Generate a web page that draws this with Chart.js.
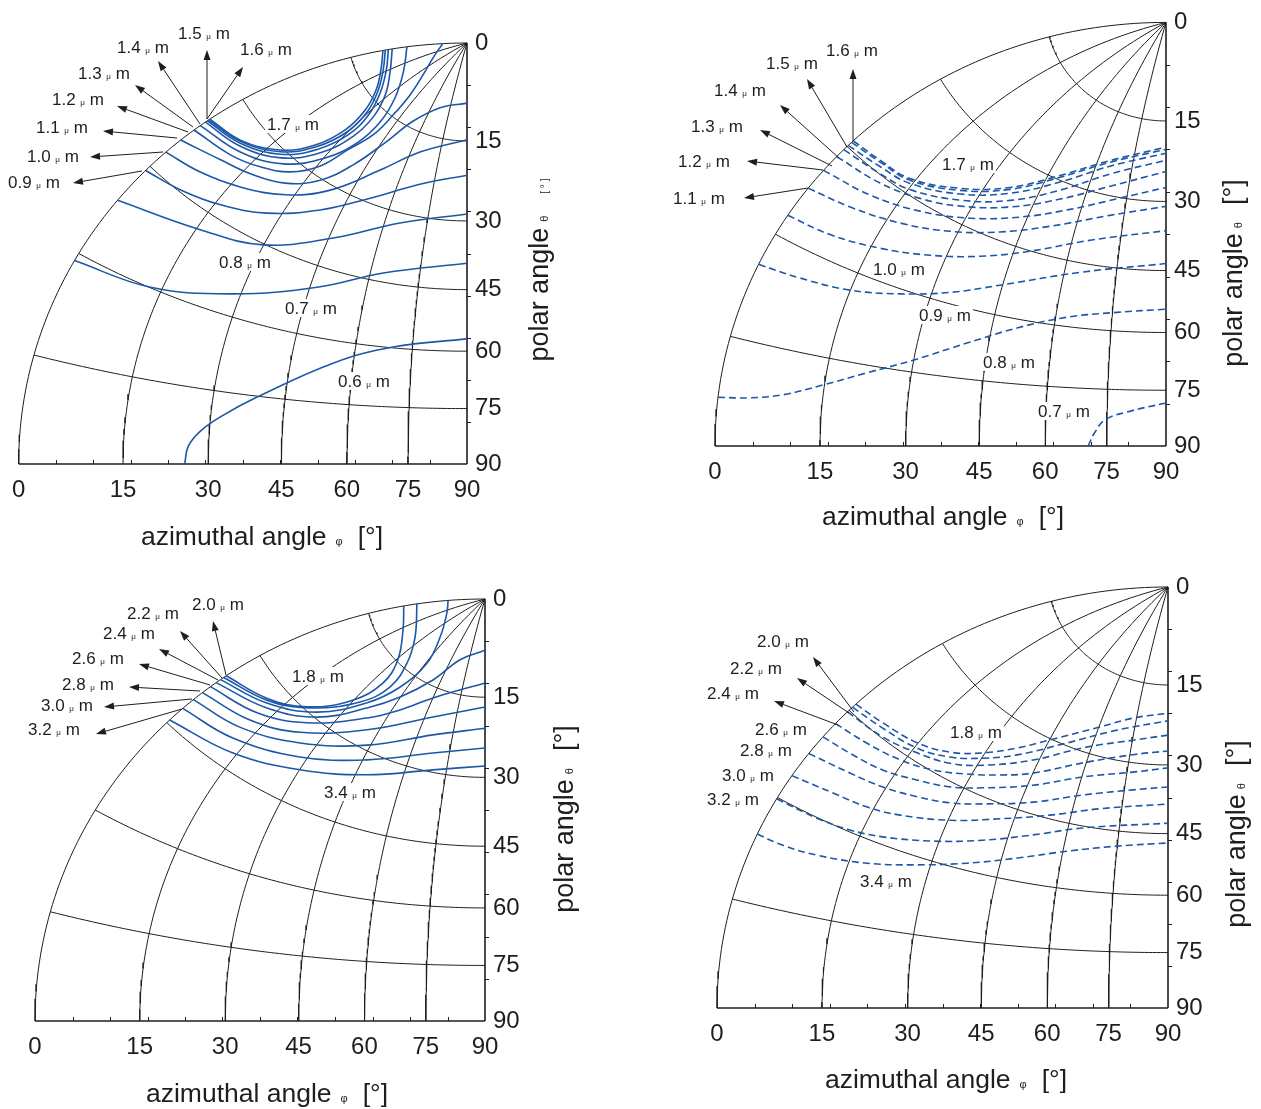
<!DOCTYPE html>
<html>
<head>
<meta charset="utf-8">
<script src="https://cdn.jsdelivr.net/npm/chart.js@4.4.1/dist/chart.umd.min.js"></script>
<style>
  html, body { margin: 0; padding: 0; background: #fff; }
  #wrap { position: relative; width: 1261px; height: 1109px; overflow: hidden; background: #fff; }
  #wrap canvas { position: absolute; left: 0; top: 0; }
</style>
</head>
<body>
<div id="wrap">
  <canvas id="chartA" width="1261" height="1109"></canvas>
  <canvas id="chartB" width="1261" height="1109"></canvas>
  <canvas id="chartC" width="1261" height="1109"></canvas>
  <canvas id="chartD" width="1261" height="1109"></canvas>
</div>
<script>
// tick labels, used on both angle axes (degrees)
const angleTicks = [0, 15, 30, 45, 60, 75, 90];

// each curve is a list of [azimuthal angle phi, polar angle theta] in degrees

// top left (solid)
const wavesA = ['0.6', '0.7', '0.8', '0.9', '1.0', '1.1', '1.2', '1.3', '1.4', '1.5', '1.6', '1.7'];
const curvesA = [
  [[25.6, 90], [26.2, 86.5], [28.3, 83.4], [31.9, 80.2], [38.9, 75.2], [55.0, 65.3], [69.8, 59.8], [90, 56.9]],
  [[0, 61.1], [13.0, 59.9], [28.5, 55.7], [46.8, 49.3], [63.8, 43.0], [90, 39.0]],
  [[0, 51.2], [15.8, 48.0], [29.9, 45.2], [46.2, 38.8], [65.3, 32.0], [90, 28.6]],
  [[0, 45.8], [7.5, 44.7], [16.2, 42.9], [26.6, 39.9], [38.9, 34.9], [52.1, 29.1], [69.0, 23.8], [90, 21.1]],
  [[0, 42.2], [7.9, 40.9], [17.1, 38.8], [27.8, 35.6], [38.4, 30.9], [50.8, 23.7], [64.5, 18.2], [90, 14.8]],
  [[0, 39.7], [9.1, 37.6], [16.8, 36.2], [25.7, 34.0], [33.8, 30.3], [40.3, 25.1], [46.8, 18.8], [53.2, 13.9], [66.9, 10.2], [90, 8.8]],
  [[0, 37.5], [9.8, 36.1], [17.4, 34.4], [24.8, 32.0], [30.9, 28.3], [34.9, 23.6], [39.5, 19.1], [40.9, 14.7], [40.3, 10.8], [34.9, 7.4], [23.0, 4.9], [0, 3.1]],
  [[0, 36.5], [10.9, 34.8], [21.6, 31.7], [30.4, 26.8], [36.3, 21.5], [38.0, 16.8], [34.2, 12.6], [21.6, 9.3], [0, 7.7]],
  [[0, 35.7], [9.8, 34.2], [19.9, 31.2], [27.9, 26.6], [32.9, 21.4], [33.5, 16.9], [28.5, 13.3], [16.8, 10.9], [0, 9.6]],
  [[0, 35.4], [9.2, 33.9], [18.9, 30.9], [26.4, 26.4], [31.1, 21.4], [30.9, 17.0], [25.6, 13.7], [14.9, 11.3], [0, 10.1]],
  [[0, 35.2], [8.8, 33.7], [18.4, 30.6], [25.4, 26.3], [29.8, 21.3], [29.4, 17.0], [23.9, 13.8], [13.4, 11.6], [0, 10.5]],
  [[0, 35.0], [8.6, 33.6], [18.0, 30.4], [24.7, 26.2], [28.6, 21.3], [28.0, 17.0], [22.7, 13.9], [12.9, 11.9], [0, 10.8]]
];

// top right (dashed)
const wavesB = ['0.7', '0.8', '0.9', '1.0', '1.1', '1.2', '1.3', '1.4', '1.5', '1.6', '1.7'];
const curvesB = [
  [[70.4, 90], [72.1, 86.3], [74.5, 83.1], [80.0, 80.9], [90, 78.4]],
  [[0, 83.4], [4.2, 83.0], [8.8, 82.0], [14.8, 79.6], [21.8, 76.4], [29.9, 72.6], [40.2, 67.2], [50.9, 62.0], [62.9, 57.8], [76.3, 55.4], [90, 54.2]],
  [[0, 64.6], [6.5, 64.1], [14.9, 63.1], [23.9, 60.9], [33.7, 57.8], [44.4, 53.6], [64.4, 47.1], [90, 43.4]],
  [[0, 57.0], [7.5, 56.4], [16.7, 54.8], [26.6, 52.4], [37.3, 49.2], [49.1, 45.1], [65.4, 39.8], [90, 36.1]],
  [[0, 52.5], [7.8, 51.4], [17.7, 49.6], [28.2, 47.0], [39.6, 43.4], [52.3, 39.0], [70.1, 33.9], [90, 31.0]],
  [[0, 49.4], [9.5, 48.3], [19.9, 46.3], [31.0, 43.3], [43.0, 39.3], [56.5, 34.6], [72.5, 30.1], [90, 27.2]],
  [[0, 46.9], [9.5, 46.0], [18.3, 44.5], [27.3, 42.2], [39.1, 38.3], [52.2, 33.3], [67.8, 28.2], [90, 24.1]],
  [[0, 45.6], [8.2, 44.9], [15.3, 44.2], [26.5, 41.3], [38.2, 37.2], [51.0, 31.7], [66.6, 25.9], [90, 22.0]],
  [[0, 44.8], [7.3, 44.1], [14.5, 43.4], [25.6, 40.4], [37.2, 36.0], [49.8, 30.3], [65.6, 24.5], [90, 20.7]],
  [[0, 44.2], [6.7, 43.6], [14.1, 43.0], [25.0, 39.9], [36.6, 35.4], [49.1, 29.5], [65.1, 23.8], [90, 20.0]],
  [[0, 43.9], [6.4, 43.4], [13.8, 42.8], [24.7, 39.6], [36.3, 35.1], [48.8, 29.2], [64.9, 23.5], [90, 19.6]]
];

// bottom left (solid)
const wavesC = ['1.8', '2.0', '2.2', '2.4', '2.6', '2.8', '3.0', '3.2', '3.4'];
const curvesC = [
  [[0, 35.1], [10.5, 32.8], [20.1, 29.5], [29.7, 24.0], [34.1, 18.9], [30.8, 14.8], [16.6, 11.6], [0, 10.4]],
  [[0, 35.5], [10.9, 33.0], [21.0, 29.3], [32.3, 23.5], [37.9, 18.7], [35.8, 14.1], [25.4, 10.7], [0, 8.7]],
  [[0, 36.0], [11.5, 33.3], [23.5, 29.1], [34.7, 22.9], [41.8, 17.8], [45.7, 12.3], [39.0, 8.0], [19.0, 5.3], [0, 4.7]],
  [[0, 36.7], [12.5, 33.8], [24.6, 29.7], [36.0, 23.6], [44.8, 19.1], [55.3, 14.1], [67.2, 9.5], [90, 7.4]],
  [[0, 37.6], [11.7, 35.3], [23.5, 31.4], [38.4, 25.0], [48.1, 21.0], [60.0, 16.8], [90, 12.6]],
  [[0, 38.9], [11.8, 36.8], [23.8, 33.3], [41.0, 26.7], [63.7, 19.9], [90, 16.7]],
  [[0, 40.4], [11.3, 38.6], [25.8, 34.7], [43.8, 29.1], [66.3, 23.0], [90, 20.5]],
  [[0, 42.2], [11.9, 40.5], [28.1, 36.7], [46.3, 31.5], [68.4, 26.3], [90, 24.2]],
  [[0, 44.5], [14.2, 42.3], [30.1, 38.6], [48.4, 34.1], [69.9, 29.5], [90, 27.7]]
];

// bottom right (dashed)
const wavesD = ['1.8', '2.0', '2.2', '2.4', '2.6', '2.8', '3.0', '3.2', '3.4'];
const curvesD = [
  [[0, 43.8], [6.4, 43.2], [14.8, 42.4], [22.3, 40.7], [29.5, 37.9], [37.1, 34.2], [45.2, 30.2], [60.4, 24.6], [73.4, 21.5], [90, 20.0]],
  [[0, 44.4], [7.1, 43.8], [15.5, 43.1], [23.0, 41.4], [30.3, 38.7], [38.2, 35.3], [51.0, 29.5], [67.7, 24.3], [90, 21.4]],
  [[0, 45.3], [8.4, 44.8], [16.2, 43.7], [23.9, 42.3], [31.3, 39.8], [43.3, 34.9], [57.1, 29.3], [75.2, 25.6], [90, 24.1]],
  [[0, 47.5], [6.8, 46.9], [14.2, 46.1], [21.4, 44.7], [28.9, 42.5], [36.7, 40.0], [45.0, 37.2], [58.9, 32.1], [76.2, 28.4], [90, 27.2]],
  [[0, 49.9], [5.5, 49.5], [12.5, 48.9], [19.6, 47.5], [26.9, 45.9], [34.2, 43.5], [46.5, 39.4], [60.4, 34.8], [77.1, 31.9], [90, 30.6]],
  [[0, 52.8], [7.7, 51.9], [14.4, 51.2], [21.5, 50.0], [28.7, 48.5], [36.0, 46.3], [48.3, 42.6], [62.0, 38.4], [77.9, 35.6], [90, 34.6]],
  [[0, 56.5], [7.2, 55.7], [13.8, 55.2], [20.2, 54.1], [30.4, 51.5], [41.5, 47.9], [54.1, 44.2], [68.2, 40.6], [90, 38.3]],
  [[0, 60.2], [7.0, 60.1], [12.9, 59.7], [19.0, 58.7], [28.7, 56.3], [39.3, 53.1], [51.1, 49.2], [64.3, 45.4], [90, 42.6]],
  [[0, 65.6], [4.1, 65.7], [9.6, 65.3], [18.1, 63.9], [27.3, 61.5], [37.5, 58.5], [48.7, 54.9], [61.1, 51.2], [74.9, 48.5], [90, 47.2]]
];

// layout of the four panels and their annotations (page pixels)
const FONT = '"Liberation Sans", Arial, Helvetica, sans-serif';
const BLUE = '#1c57a8';
const INK = '#1e1e1e';
const AXIS_W = 40, AXIS_H = 40;

const frameA = { left: 18, top: 43, right: 467, bottom: 464 };
const frameB = { left: 715, top: 22, right: 1166, bottom: 446 };
const frameC = { left: 35, top: 599, right: 485, bottom: 1021 };
const frameD = { left: 717, top: 587, right: 1168, bottom: 1008 };

// [wavelength, text left, text middle]
const labelsA = [['1.5', 178, 33], ['1.6', 240, 49], ['1.4', 117, 47], ['1.3', 78, 73], ['1.2', 52, 99], ['1.1', 36, 127],
  ['1.0', 27, 156], ['0.9', 8, 182], ['1.7', 267, 124], ['0.8', 219, 262], ['0.7', 285, 308], ['0.6', 338, 381]];
const labelsB = [['1.6', 826, 50], ['1.5', 766, 63], ['1.4', 714, 90], ['1.3', 691, 126], ['1.2', 678, 161], ['1.1', 673, 198],
  ['1.7', 942, 164], ['1.0', 873, 269], ['0.9', 919, 315], ['0.8', 983, 362], ['0.7', 1038, 411]];
const labelsC = [['2.0', 192, 604], ['2.2', 127, 613], ['2.4', 103, 633], ['2.6', 72, 658], ['2.8', 62, 684], ['3.0', 41, 705],
  ['3.2', 28, 729], ['1.8', 292, 676], ['3.4', 324, 792]];
const labelsD = [['2.0', 757, 641], ['2.2', 730, 668], ['2.4', 707, 693], ['2.6', 755, 729], ['2.8', 740, 750], ['3.0', 722, 775],
  ['3.2', 707, 799], ['1.8', 950, 732], ['3.4', 860, 881]];

// arrows: tail x, tail y, head x, head y
const arrowsA = [[207, 119, 207, 50], [207, 119, 243, 67], [200, 124, 158, 61], [193, 127, 135, 85], [188, 132, 117, 106],
  [177, 138, 103, 131], [163, 152, 90, 157], [142, 171, 73, 183]];
const arrowsB = [[853, 141, 853, 69], [847, 147, 807, 79], [839, 158, 780, 105], [832, 166, 760, 130], [823, 170, 747, 161],
  [808, 188, 744, 198]];
const arrowsC = [[226, 675, 213, 621], [222, 678, 180, 631], [218, 680, 159, 649], [210, 685, 139, 664], [200, 691, 129, 687],
  [192, 699, 104, 707], [182, 709, 96, 734]];
const arrowsD = [[854, 712, 813, 657], [849, 713, 797, 678], [838, 725, 774, 701]];

// title pieces: text, font size, gap after
const xTitle = [['azimuthal angle', 26.5, 9], ['\u03c6', 11, 15], ['[\u00b0]', 26.5, 0]];
const yTitle = [['polar angle', 27, 5], ['\u03b8', 11, 17], ['[\u00b0]', 27, 0]];
const yTitleA = [['polar angle', 27, 6], ['\u03b8', 11, 22], ['[ \u00b0 ]', 10, 0]];

// stereographic view of the octant: apex = polar 0, right edge = azimuth 90, bottom = polar 90
function stereo(a) { return Math.tan((90 - a) / 2 * Math.PI / 180); }
function project(phi, theta) {
  const p = phi * Math.PI / 180, t = theta * Math.PI / 180;
  const d = 1 + Math.sin(t) * Math.sin(p);
  return { x: Math.sin(t) * Math.cos(p) / d, y: Math.cos(t) / d };
}

// constant-azimuth and constant-polar grid lines, the outer ones are the frame
function gridLines() {
  const lines = [];
  angleTicks.forEach(phi => {
    const pts = [];
    for (let t = 0; t <= 90; t += 1) pts.push(project(phi, t));
    lines.push({ pts, edge: phi === 90 });
  });
  angleTicks.slice(1).forEach(theta => {
    const pts = [];
    for (let p = 0; p <= 90; p += 1) pts.push(project(p, theta));
    lines.push({ pts, edge: theta === 90 });
  });
  return lines;
}

function drawRich(ctx, parts, cx, base) {
  let total = 0;
  const widths = parts.map(([t, s, g]) => {
    ctx.font = s + 'px ' + FONT;
    const w = ctx.measureText(t).width;
    total += w + g;
    return w;
  });
  let x = cx - total / 2;
  ctx.textAlign = 'left';
  ctx.textBaseline = 'alphabetic';
  parts.forEach(([t, s, g], i) => {
    ctx.font = s + 'px ' + FONT;
    ctx.fillText(t, x, base);
    x += widths[i] + g;
  });
}

function drawWaveLabel(ctx, text, left, cy) {
  const big = '17px ' + FONT, small = '8px ' + FONT;
  ctx.font = big; const w1 = ctx.measureText(text + ' ').width;
  ctx.font = small; const w2 = ctx.measureText('\u03bc').width;
  ctx.font = big; const w3 = ctx.measureText(' m').width;
  ctx.fillStyle = '#fff';
  ctx.fillRect(left - 2, cy - 9, w1 + w2 + w3 + 4, 18);
  ctx.fillStyle = INK;
  ctx.textAlign = 'left';
  ctx.textBaseline = 'alphabetic';
  const base = cy + 6;
  ctx.font = big; ctx.fillText(text + ' ', left, base);
  ctx.font = small; ctx.fillText('\u03bc', left + w1, base);
  ctx.font = big; ctx.fillText(' m', left + w1 + w2, base);
}

function drawArrow(ctx, [x1, y1, x2, y2]) {
  const ang = Math.atan2(y2 - y1, x2 - x1);
  const hl = 10, hw = 3.5;
  const bx = x2 - hl * Math.cos(ang), by = y2 - hl * Math.sin(ang);
  ctx.strokeStyle = INK;
  ctx.fillStyle = INK;
  ctx.lineWidth = 1;
  ctx.beginPath(); ctx.moveTo(x1, y1); ctx.lineTo(bx, by); ctx.stroke();
  ctx.beginPath();
  ctx.moveTo(x2, y2);
  ctx.lineTo(bx - hw * Math.sin(ang), by + hw * Math.cos(ang));
  ctx.lineTo(bx + hw * Math.sin(ang), by - hw * Math.cos(ang));
  ctx.closePath();
  ctx.fill();
}

// minor ticks, labels, arrows and axis titles
const decorPlugin = {
  id: 'decor',
  afterDatasetsDraw(chart, args, opts) {
    const ctx = chart.ctx;
    const xs = chart.scales.x, ys = chart.scales.y;
    const area = chart.chartArea;
    ctx.save();
    ctx.strokeStyle = INK;
    ctx.lineWidth = 1;
    ctx.beginPath();
    for (let k = 1; k < 12; k++) {
      const px = Math.round(xs.getPixelForValue(k / 12)) + 0.5;
      ctx.moveTo(px, area.bottom); ctx.lineTo(px, area.bottom - 4);
    }
    for (let k = 1; k < 10; k++) {
      const py = Math.round(ys.getPixelForValue(k / 10)) + 0.5;
      ctx.moveTo(area.right, py); ctx.lineTo(area.right + 4, py);
    }
    ctx.stroke();

    opts.labels.forEach(([t, l, c]) => drawWaveLabel(ctx, t, l, c));
    opts.arrows.forEach(a => drawArrow(ctx, a));

    ctx.fillStyle = INK;
    drawRich(ctx, xTitle, opts.xTitlePos[0], opts.xTitlePos[1]);
    ctx.save();
    ctx.translate(opts.yTitlePos[0], opts.yTitlePos[1]);
    ctx.rotate(-Math.PI / 2);
    drawRich(ctx, opts.yParts, 0, 0);
    ctx.restore();
    ctx.restore();
  }
};

function buildPanel(id, frame, waves, curves, dashed, deco) {
  const datasets = curves.map((c, i) => ({
    label: waves[i] + ' \u03bcm',
    data: c.map(([phi, theta]) => project(phi, theta)),
    showLine: true,
    borderColor: BLUE,
    borderWidth: 1.6,
    borderDash: dashed ? [7, 4] : [],
    tension: 0.4,
    pointRadius: 0,
    clip: false,
    order: 0
  }));
  gridLines().forEach(g => datasets.push({
    label: 'grid',
    data: g.pts,
    showLine: true,
    borderColor: INK,
    borderWidth: g.edge ? 1.6 : 1,
    tension: 0,
    pointRadius: 0,
    clip: false,
    order: 1
  }));

  const tickFont = { family: FONT, size: 24 };
  new Chart(document.getElementById(id), {
    type: 'scatter',
    data: { datasets },
    options: {
      responsive: false,
      animation: false,
      devicePixelRatio: 1,
      events: [],
      layout: {
        padding: {
          left: frame.left,
          top: frame.top,
          right: 1261 - frame.right - AXIS_W,
          bottom: 1109 - frame.bottom - AXIS_H
        }
      },
      scales: {
        x: {
          type: 'linear', position: 'bottom', min: 0, max: 1, reverse: true,
          grid: { display: false, drawTicks: false }, border: { display: false },
          afterBuildTicks: s => { s.ticks = angleTicks.map(a => ({ value: stereo(a) })); },
          afterFit: s => { s.height = AXIS_H; },
          ticks: { autoSkip: false, maxRotation: 0, padding: 12, color: INK, font: tickFont,
            callback: (v, i) => String(angleTicks[i]) }
        },
        y: {
          type: 'linear', position: 'right', min: 0, max: 1,
          grid: { display: false, drawTicks: false }, border: { display: false },
          afterBuildTicks: s => { s.ticks = angleTicks.map(a => ({ value: stereo(a) })); },
          afterFit: s => { s.width = AXIS_W; },
          ticks: { autoSkip: false, padding: 8, color: INK, font: tickFont,
            callback: (v, i) => String(angleTicks[i]) }
        }
      },
      plugins: { legend: { display: false }, tooltip: { enabled: false }, decor: deco }
    },
    plugins: [decorPlugin]
  });
}

buildPanel('chartA', frameA, wavesA, curvesA, false,
  { labels: labelsA, arrows: arrowsA, xTitlePos: [262, 545], yTitlePos: [548, 270], yParts: yTitleA });
buildPanel('chartB', frameB, wavesB, curvesB, true,
  { labels: labelsB, arrows: arrowsB, xTitlePos: [943, 525], yTitlePos: [1242, 273], yParts: yTitle });
buildPanel('chartC', frameC, wavesC, curvesC, false,
  { labels: labelsC, arrows: arrowsC, xTitlePos: [267, 1102], yTitlePos: [573, 819], yParts: yTitle });
buildPanel('chartD', frameD, wavesD, curvesD, true,
  { labels: labelsD, arrows: arrowsD, xTitlePos: [946, 1088], yTitlePos: [1245, 834], yParts: yTitle });
</script>
</body>
</html>
